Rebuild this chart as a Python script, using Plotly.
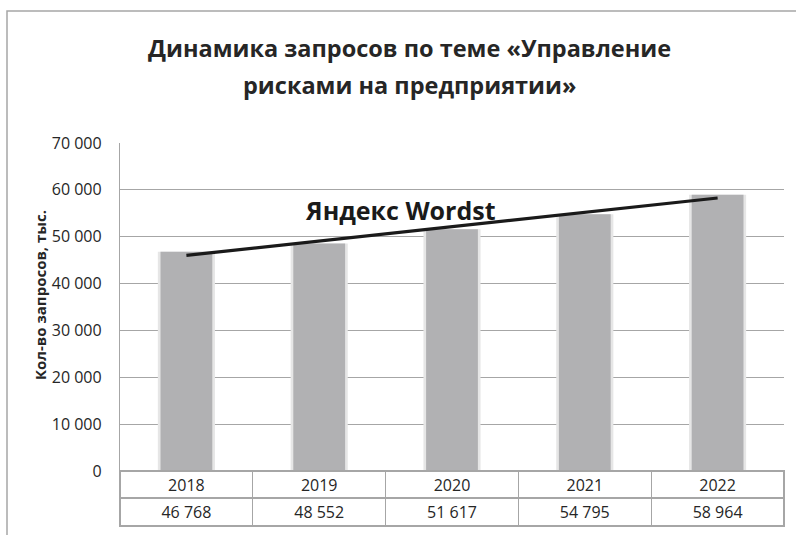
import numpy as np
import plotly.graph_objects as go

years = ["2018", "2019", "2020", "2021", "2022"]
values = [46768, 48552, 51617, 54795, 58964]
y_ticks = [0, 10000, 20000, 30000, 40000, 50000, 60000, 70000]
title_lines = ["Динамика запросов по теме «Управление", "рисками на предприятии»"]
y_title = "Кол-во запросов, тыс."
trend_label = "Яндекс Wordst"

W, H = 796, 535
ML, MR, MT, MB = 120, 12, 143, 8
PW, PH = W - ML - MR, H - MT - MB
table_h = 56
dom0 = table_h / PH

def px_x(x):
    return (x - ML) / PW

def px_y(y):
    return (H - MB - y) / PH

FONT = "Open Sans"
TXT = "#262626"

xs = np.arange(len(years))
coef = np.polyfit(xs, values, 1)
trend_x = [xs[0], xs[-1]]
trend_y = list(np.polyval(coef, trend_x))

fig = go.Figure()
fig.add_trace(go.Bar(x=xs, y=values, width=0.43, marker=dict(color="#e6e6e6", line=dict(width=0)),
                     hoverinfo="skip", showlegend=False))
fig.add_trace(go.Bar(x=xs, y=values, width=0.39, marker=dict(color="#b1b1b3", line=dict(width=0)),
                     showlegend=False))
fig.add_trace(go.Scatter(x=trend_x, y=trend_y, mode="lines", line=dict(color="#1a1a1a", width=3.2),
                         showlegend=False))

fig.add_trace(go.Table(
    domain=dict(x=[0, 1], y=[0, dom0]),
    columnwidth=[1] * len(years),
    header=dict(values=years, height=27, align="center",
                fill=dict(color="white"), line=dict(color="#a6a6a6", width=1.3),
                font=dict(family=FONT, size=16, color=TXT)),
    cells=dict(values=[[f"{v:,}".replace(",", " ")] for v in values], height=28, align="center",
               fill=dict(color="white"), line=dict(color="#a6a6a6", width=1.3),
               font=dict(family=FONT, size=16, color=TXT)),
))

fig.update_layout(
    width=W, height=H, autosize=False,
    margin=dict(l=ML, r=MR, t=MT, b=MB, autoexpand=False),
    paper_bgcolor="white", plot_bgcolor="white",
    barmode="overlay",
    separators=". ",
    xaxis=dict(range=[-0.5, len(years) - 0.5], showticklabels=False, showgrid=False,
               zeroline=False, showline=False, fixedrange=True, automargin=False),
    yaxis=dict(domain=[dom0, 1], range=[0, 70000], tickvals=y_ticks, tickformat=",d",
               showgrid=True, gridcolor="#a6a6a6", gridwidth=1.3, zeroline=False,
               showline=True, linecolor="#a6a6a6", linewidth=1.3, automargin=False,
               ticks="", ticklabelstandoff=14,
               tickfont=dict(family=FONT, size=16, color=TXT)),
    font=dict(family=FONT, color=TXT),
)

fig.add_annotation(text=f"<b>{title_lines[0]}</b>", xref="paper", yref="paper",
                   x=px_x(409), y=px_y(48), xanchor="center", yanchor="middle", showarrow=False,
                   font=dict(family=FONT, size=23.5, color=TXT))
fig.add_annotation(text=f"<b>{title_lines[1]}</b>", xref="paper", yref="paper",
                   x=px_x(409), y=px_y(85), xanchor="center", yanchor="middle", showarrow=False,
                   font=dict(family=FONT, size=23.5, color=TXT))
fig.add_annotation(text=f"<b>{y_title}</b>", xref="paper", yref="paper", textangle=-90,
                   x=px_x(40), y=px_y(295), xanchor="center", yanchor="middle",
                   showarrow=False, font=dict(family=FONT, size=15, color=TXT))
fig.add_annotation(text=f"<b>{trend_label}</b>", xref="x", yref="y", x=1.61, y=55600,
                   xanchor="center", yanchor="middle", showarrow=False,
                   font=dict(family=FONT, size=25, color="#1a1a1a"))

fig.add_shape(type="rect", xref="paper", yref="paper", x0=px_x(7), y0=-0.2, x1=1.2, y1=px_y(11),
              line=dict(color="#a6a6a6", width=1.5), fillcolor="rgba(0,0,0,0)", layer="below")

fig.write_html("out.html", config={"displayModeBar": False, "responsive": False},
               post_script="document.body.style.margin='0';")
